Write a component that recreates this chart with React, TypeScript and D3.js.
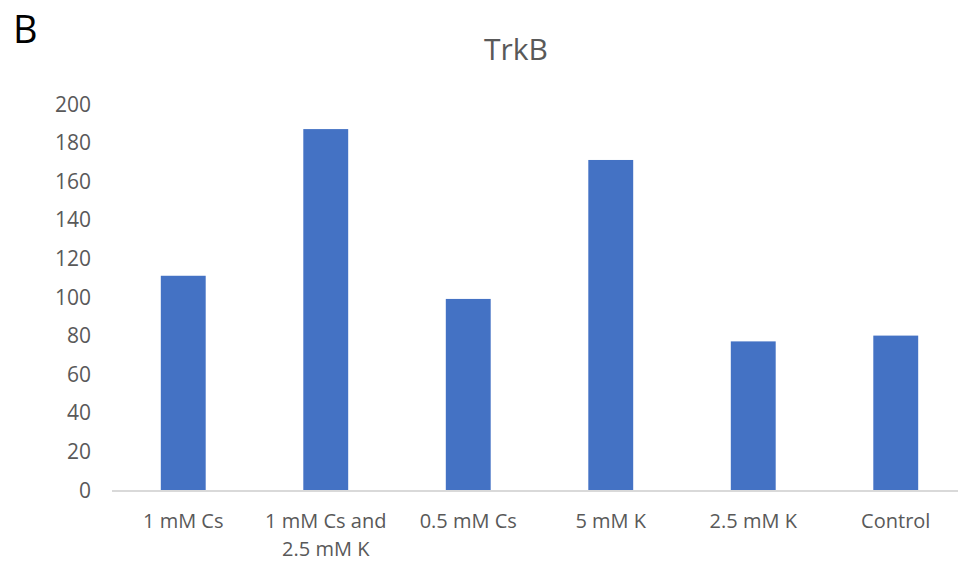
import React from "react";
import * as d3 from "d3";

const categories: string[][] = [
  ["1 mM Cs"],
  ["1 mM Cs and", "2.5 mM K"],
  ["0.5 mM Cs"],
  ["5 mM K"],
  ["2.5 mM K"],
  ["Control"],
];
const values = [111, 187, 99, 171, 77, 80];
const yTicks = [0, 20, 40, 60, 80, 100, 120, 140, 160, 180, 200];
const title = "TrkB";
const panelLabel = "B";

export default function App() {
  const W = 958, H = 562;
  const x = d3
    .scaleBand<number>()
    .domain(values.map((_, i) => i))
    .range([112, 967])
    .paddingInner(0.685)
    .paddingOuter(0.3425);
  const y = d3.scaleLinear().domain([0, 200]).range([490, 104]);
  const font = "'Open Sans', sans-serif";
  return (
    <svg width={W} height={H} style={{ position: "absolute", left: 0, top: 0, background: "#fff" }}>
      <text x={13} y={43} fontFamily={font} fontSize={38} fill="#000">{panelLabel}</text>
      <text x={516} y={60} textAnchor="middle" fontFamily={font} fontSize={30} fill="#595959">{title}</text>
      {yTicks.map((t) => (
        <text key={t} x={91} y={y(t)} dy="0.36em" textAnchor="end" fontFamily={font} fontSize={21} fill="#595959">{t}</text>
      ))}
      {values.map((v, i) => (
        <rect key={i} x={x(i)} y={y(v)} width={x.bandwidth()} height={y(0) - y(v)} fill="#4472c4" />
      ))}
      <line x1={112} x2={967} y1={491} y2={491} stroke="#d9d9d9" strokeWidth={2} />
      {categories.map((lines, i) => (
        <text key={i} textAnchor="middle" fontFamily={font} fontSize={20} fill="#595959">
          {lines.map((l, j) => (
            <tspan key={j} x={(x(i) as number) + x.bandwidth() / 2} y={528 + j * 28}>{l}</tspan>
          ))}
        </text>
      ))}
    </svg>
  );
}
